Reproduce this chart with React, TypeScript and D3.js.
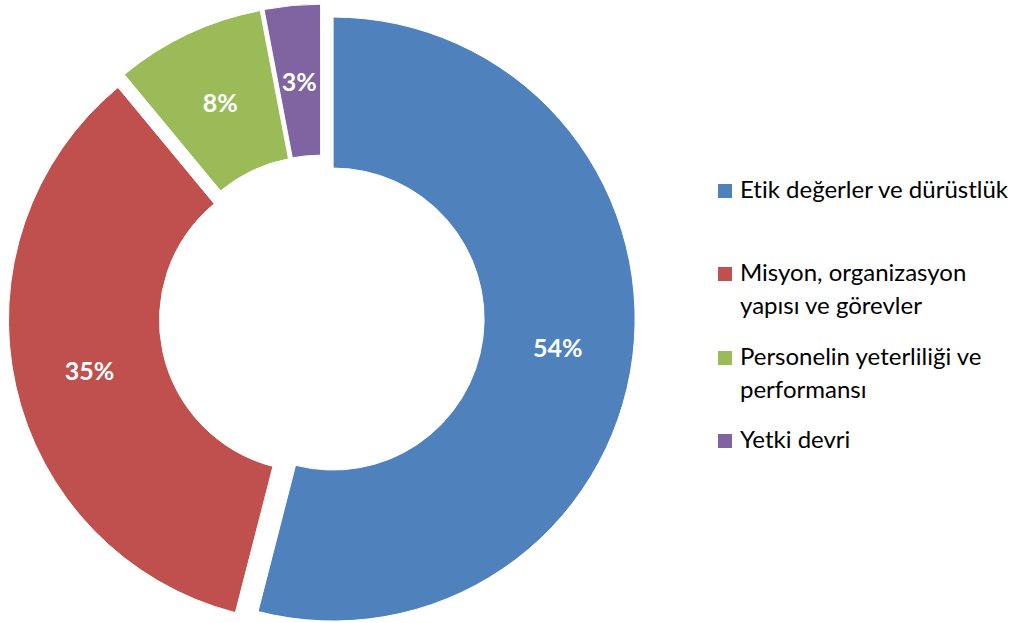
import React from "react";
import * as d3 from "d3";

const categories = [
  "Etik değerler ve dürüstlük",
  "Misyon, organizasyon yapısı ve görevler",
  "Personelin yeterliliği ve performansı",
  "Yetki devri",
];
const legendLines = [
  ["Etik değerler ve dürüstlük"],
  ["Misyon, organizasyon", "yapısı ve görevler"],
  ["Personelin yeterliliği ve", "performansı"],
  ["Yetki devri"],
];
const values = [54, 35, 8, 3];
const labels = ["54%", "35%", "8%", "3%"];
const colors = ["#4F81BD", "#C0504D", "#9BBB59", "#8064A2"];

const W = 1029;
const H = 623;
const CX = 321.7;
const CY = 317.6;
const R_OUT = 302;
const R_IN = 151;
const EXPLODE = 11.5;

export default function App() {
  const pie = d3
    .pie<number>()
    .sort(null)
    .value((d) => d)
    .startAngle(0)
    .endAngle(2 * Math.PI);
  const arcs = pie(values);
  const arc = d3.arc<d3.PieArcDatum<number>>().innerRadius(R_IN).outerRadius(R_OUT);

  const legendBaselines = [198, 281, 365, 448];
  const lineH = 33;

  return (
    <svg
      width={W}
      height={H}
      style={{ position: "absolute", left: 0, top: 0, background: "#fff", fontVariantLigatures: "none" }}
      fontFamily="Lato, 'Open Sans', sans-serif"
    >
      <g transform={`translate(${CX},${CY})`}>
        {arcs.map((a, i) => {
          const mid = (a.startAngle + a.endAngle) / 2;
          const dx = Math.sin(mid) * EXPLODE;
          const dy = -Math.cos(mid) * EXPLODE;
          const [lx, ly] = arc.centroid(a);
          return (
            <g key={categories[i]} transform={`translate(${dx},${dy})`}>
              <path d={arc(a) || ""} fill={colors[i]} stroke="#fff" strokeWidth={1} />
              <text
                x={lx}
                y={ly}
                textAnchor="middle"
                dominantBaseline="central"
                fill="#fff"
                fontWeight="bold"
                fontSize={25}
              >
                {labels[i]}
              </text>
            </g>
          );
        })}
      </g>
      <g>
        {legendLines.map((lines, i) => (
          <g key={i}>
            <rect x={718} y={legendBaselines[i] - 14} width={14} height={14} fill={colors[i]} />
            <text x={740} y={legendBaselines[i]} fontSize={24} fill="#000">
              {lines.map((l, j) => (
                <tspan key={j} x={740} dy={j === 0 ? 0 : lineH}>
                  {l}
                </tspan>
              ))}
            </text>
          </g>
        ))}
      </g>
    </svg>
  );
}
